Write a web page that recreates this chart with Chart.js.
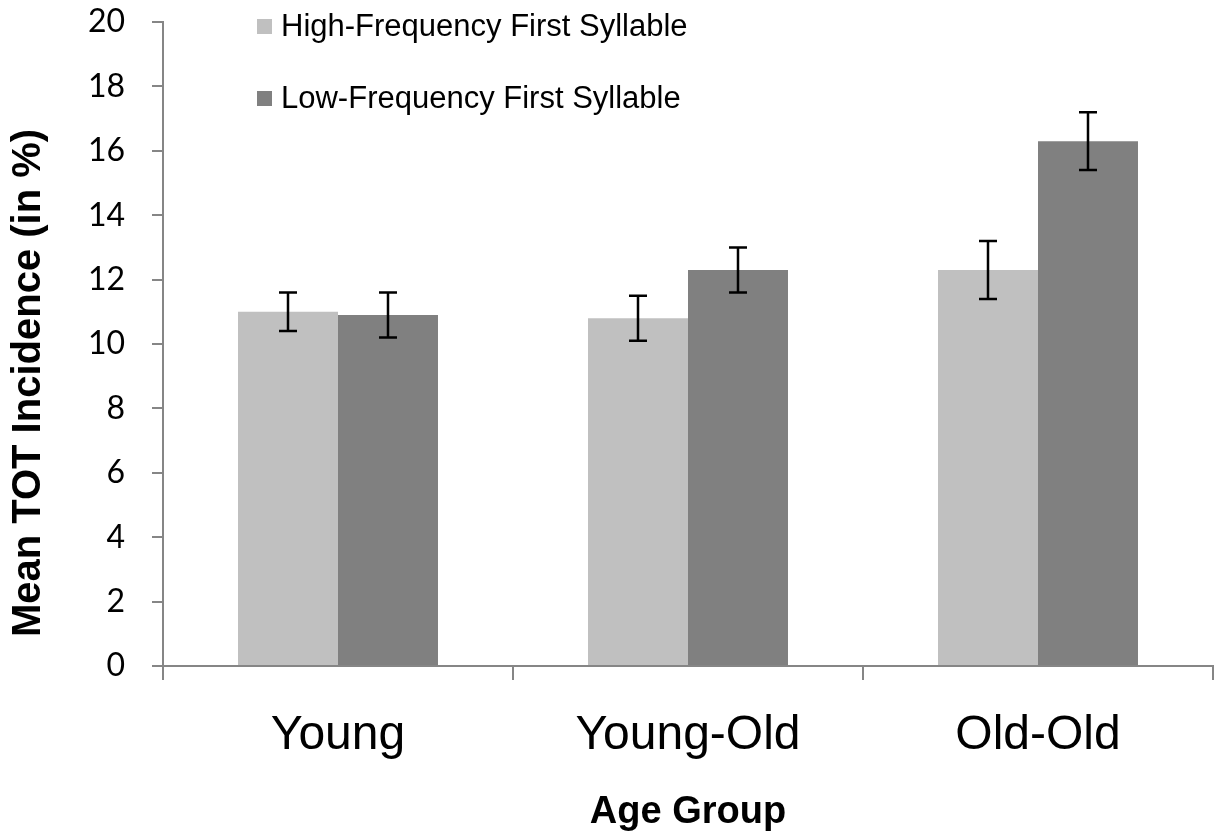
<!DOCTYPE html>
<html>
<head>
<meta charset="utf-8">
<script src="https://cdn.jsdelivr.net/npm/chart.js@4.4.1/dist/chart.umd.min.js"></script>
<style>
  html, body { margin:0; padding:0; background:#fff; }
  #wrap { width:1220px; height:840px; }
</style>
</head>
<body>
<div id="wrap"><canvas id="chart" width="1220" height="840"></canvas></div>
<script>
// ---- data ----
const categories = ['Young', 'Young-Old', 'Old-Old'];
const seriesNames = ['High-Frequency First Syllable', 'Low-Frequency First Syllable'];
const highFreq = [11.0, 10.8, 12.3];
const lowFreq = [10.9, 12.3, 16.3];
const highFreqErr = [0.6, 0.7, 0.9];
const lowFreqErr = [0.7, 0.7, 0.9];
const yMin = 0, yMax = 20, yStep = 2;
const yTitle = 'Mean TOT Incidence (in %)';
const xTitle = 'Age Group';

const colors = ['#C0C0C0', '#808080'];
const axisGray = '#868686';
const errors = [highFreqErr, lowFreqErr];

// error bars drawn from the bar elements + y scale
const errorBars = {
  id: 'errorBars',
  afterDatasetsDraw(chart){
    const ctx = chart.ctx, y = chart.scales.y;
    ctx.save();
    ctx.strokeStyle = '#000';
    ctx.lineWidth = 2.5;
    chart.data.datasets.forEach((ds, i) => {
      const meta = chart.getDatasetMeta(i);
      meta.data.forEach((bar, j) => {
        const v = ds.data[j], e = errors[i][j];
        const top = y.getPixelForValue(v + e), bot = y.getPixelForValue(v - e);
        ctx.beginPath();
        ctx.moveTo(bar.x, top); ctx.lineTo(bar.x, bot);
        ctx.moveTo(bar.x - 9, top); ctx.lineTo(bar.x + 9, top);
        ctx.moveTo(bar.x - 9, bot); ctx.lineTo(bar.x + 9, bot);
        ctx.stroke();
      });
    });
    ctx.restore();
  }
};

// legend sitting inside the plot, stacked with wide spacing; y title placed by hand
const extras = {
  id: 'extras',
  afterDraw(chart){
    const ctx = chart.ctx;
    const rows = [27, 99];
    ctx.save();
    ctx.font = '31px "Liberation Sans", Arial, sans-serif';
    ctx.textBaseline = 'middle';
    seriesNames.forEach((name, i) => {
      ctx.fillStyle = colors[i];
      ctx.fillRect(257, rows[i] - 8, 15, 15);
      ctx.fillStyle = '#000';
      ctx.fillText(name, 281, rows[i]);
    });
    ctx.translate(29, 383);
    ctx.rotate(-Math.PI / 2);
    ctx.font = 'bold 40px "Liberation Sans", Arial, sans-serif';
    ctx.textAlign = 'center';
    ctx.fillText(yTitle, 0, 0);
    ctx.restore();
  }
};

new Chart(document.getElementById('chart'), {
  type: 'bar',
  data: {
    labels: categories,
    datasets: [
      { label: seriesNames[0], data: highFreq, backgroundColor: colors[0], borderWidth: 0 },
      { label: seriesNames[1], data: lowFreq, backgroundColor: colors[1], borderWidth: 0 }
    ]
  },
  options: {
    responsive: false,
    devicePixelRatio: 1,
    animation: false,
    categoryPercentage: 0.5714,
    barPercentage: 1.0,
    layout: { padding: { left: 0, right: 7, top: 22, bottom: 0 } },
    plugins: { legend: { display: false }, tooltip: { enabled: false } },
    scales: {
      x: {
        grid: { offset: true, drawOnChartArea: false, drawTicks: true, tickLength: 14, color: axisGray, lineWidth: 2 },
        border: { display: true, color: axisGray, width: 2 },
        ticks: { color: '#000', padding: 27, font: { family: '"Liberation Sans", Arial, sans-serif', size: 48 } },
        title: {
          display: true, text: xTitle, color: '#000',
          font: { family: '"Liberation Sans", Arial, sans-serif', size: 38, weight: 'bold' },
          padding: { top: 0, bottom: 5 }
        },
        afterFit(scale){ scale.height = 840 - 666; scale.paddingLeft = 0; scale.paddingRight = 0; }
      },
      y: {
        min: yMin, max: yMax,
        ticks: { stepSize: yStep, color: '#000', padding: 27, font: { family: 'Lato, "Open Sans", sans-serif', size: 32 } },
        grid: { drawOnChartArea: false, drawTicks: true, tickLength: 11, color: axisGray, lineWidth: 2 },
        border: { display: true, color: axisGray, width: 2 },
        title: { display: false },
        afterFit(scale){ scale.width = 163; scale.paddingTop = 0; scale.paddingBottom = 0; }
      }
    }
  },
  plugins: [errorBars, extras]
});
</script>
</body>
</html>
